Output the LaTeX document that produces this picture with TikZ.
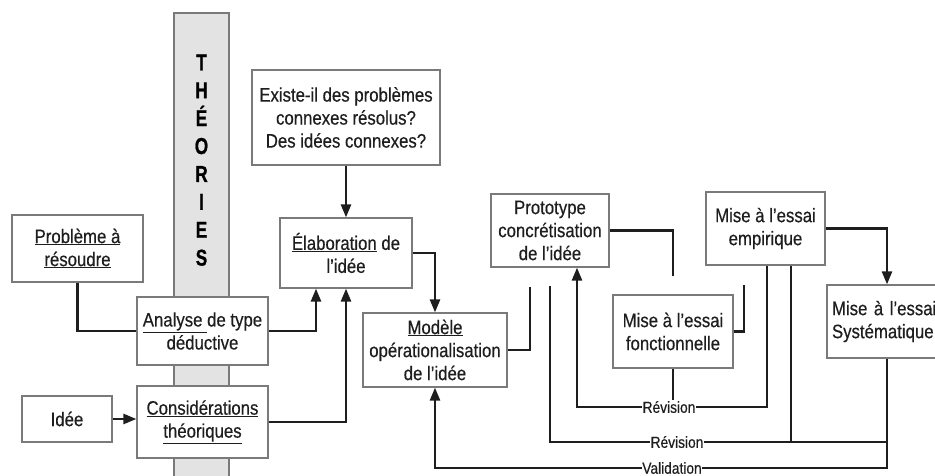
\documentclass[tikz,border=0pt]{standalone}
\usepackage{fontspec}
\setmainfont[FakeStretch=0.86,FakeBold=0.4]{Liberation Sans}
\newfontfamily\bandfont[FakeStretch=0.86,FakeBold=1]{Liberation Sans Bold}
\usetikzlibrary{arrows.meta,calc}
\definecolor{ink}{HTML}{1E1E1E}
\definecolor{frame}{HTML}{7A7A7A}
\definecolor{barfill}{HTML}{E3E3E3}

\begin{document}
\begin{tikzpicture}[x=1pt,y=-1pt,
  box/.style={draw=frame,line width=1.2pt,fill=white,text=ink,align=center,
    inner sep=2pt,font=\fontsize{19.5}{23}\selectfont},
  link/.style={draw=ink,line width=2.5pt},
  tip/.style={-{Triangle[width=10pt,length=13pt]}},
  tag/.style={fill=white,text=ink,inner xsep=0.5pt,inner ysep=1pt,font=\fontsize{16}{17}\selectfont},
  bandletter/.style={anchor=base,inner sep=0pt,text=black,font=\bandfont\fontsize{20}{20}\selectfont}]

\useasboundingbox (0,0) rectangle (935,476);
\clip (0,0) rectangle (935,476);

% vertical band with the stacked word THÉORIES
\draw[draw=frame,fill=barfill,line width=1.2pt] (174,13) rectangle (229,490);
\node[bandletter] (bandT) at (201.5,70.3) {\scalebox{1}[1.15]{T}};
\node[bandletter] (bandH) at (201.5,98.2) {\scalebox{1}[1.15]{H}};
\node[bandletter] (bandEacute) at (201.5,126.1) {\scalebox{1}[1.15]{É}};
\node[bandletter] (bandO) at (201.5,154) {\scalebox{1}[1.15]{O}};
\node[bandletter] (bandR) at (201.5,181.9) {\scalebox{1}[1.15]{R}};
\node[bandletter] (bandI) at (201.5,209.8) {\scalebox{1}[1.15]{I}};
\node[bandletter] (bandE) at (201.5,237.7) {\scalebox{1}[1.15]{E}};
\node[bandletter] (bandS) at (201.5,265.6) {\scalebox{1}[1.15]{S}};

% boxes
\node[box,minimum width=131pt,minimum height=67pt] (prob) at (77.5,248.5)
  {\underline{Problème à}\\\underline{résoudre}};
\node[box,minimum width=131pt,minimum height=68pt] (analyse) at (202.5,331)
  {\underline{Analyse\ }de type\\déductive};
\node[box,minimum width=131pt,minimum height=72pt] (consid) at (202.5,422)
  {\underline{Considérations}\\\underline{théoriques}};
\node[box,minimum width=90pt,minimum height=46pt] (idee) at (67,419) {Idée};
\node[box,minimum width=188pt,minimum height=95pt] (existe) at (346,117.5)
  {Existe-il des problèmes\\connexes résolus?\\Des idées connexes?};
\node[box,minimum width=132pt,minimum height=70pt] (elab) at (346,253)
  {\underline{Élaboration} de\\l’idée};
\node[box,minimum width=144pt,minimum height=74pt] (modele) at (435,350)
  {\underline{Modèle}\\opérationalisation\\de l’idée};
\node[box,minimum width=118pt,minimum height=73pt] (proto) at (550,230.5)
  {Prototype\\concrétisation\\de l’idée};
\node[box,minimum width=120pt,minimum height=73pt] (fonct) at (673,331.5)
  {Mise à l’essai\\fonctionnelle};
\node[box,minimum width=119pt,minimum height=73pt] (empir) at (765.5,228.5)
  {Mise à l’essai\\empirique};
\node[box,minimum width=120pt,minimum height=73pt,text width=110pt,align=left] (syst) at (887,321.5)
  {Mise à l’essai\\Systématique};

% forward connectors
\draw[link] (prob.south) |- (analyse.west);
\draw[link,tip] (analyse.east) -| ([xshift=-30pt]elab.south);
\draw[link,tip] (consid.east) -| (elab.south);
\draw[link,tip] (idee.east) -- (idee.east -| consid.west);
\draw[link,tip] (existe.south) -- (elab.north);
\draw[link,tip] (elab.east) -| (modele.north);
\coordinate (modfree) at (530,287);
\draw[link] (modele.east) -| (modfree);
\coordinate (protofree) at (673,276);
\draw[link] (proto.east) -| (protofree);
\coordinate (fonctfree) at (744,285);
\draw[link] (fonct.east) -| (fonctfree);
\draw[link,tip] (empir.east) -| (syst.north);

% feedback loops
\coordinate (revApos) at (669,407);
\coordinate (revBpos) at (677,442);
\coordinate (valpos) at (672,468);
\coordinate (protoleft) at (550,286);
\draw[link,tip] ([xshift=1.5pt]empir.south) |- (revApos) -| ([xshift=27pt]proto.south);
\draw[link] (fonct.south) -- (fonct.south |- revApos);
\draw[link] (protoleft) |- (revBpos) -- (revBpos -| syst.south);
\draw[link] ([xshift=25.5pt]empir.south) -- ([xshift=25.5pt]empir.south |- revBpos);
\draw[link,tip] (syst.south) |- (valpos) -| (modele.south);

\node[tag] (revA) at (revApos) {Révision};
\node[tag] (revB) at (revBpos) {Révision};
\node[tag] (valid) at (valpos) {Validation};
\end{tikzpicture}
\end{document}
